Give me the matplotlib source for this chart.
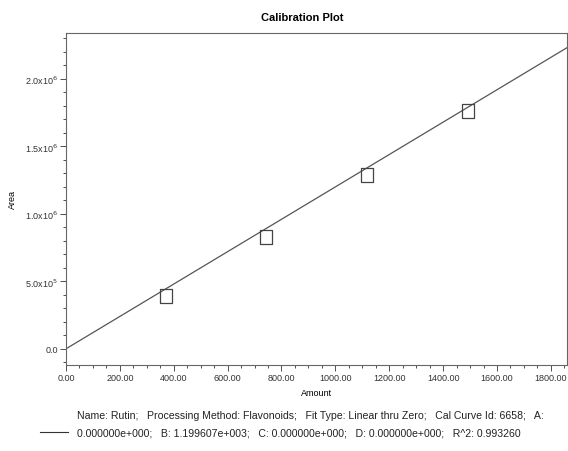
import matplotlib.pyplot as plt
from matplotlib.ticker import MultipleLocator, FixedLocator
import numpy as np

plt.rcParams['font.family'] = ['Liberation Sans Narrow', 'Liberation Sans', 'DejaVu Sans']

# 标准品数据点
amount = [370, 741, 1119, 1493]
area = [393000, 830000, 1290000, 1763000]

# 拟合参数 (Linear thru Zero)
coef_b = 1.199607e+003

y_ticks = [0, 500000, 1000000, 1500000, 2000000]
y_labels = ['0.0', '5.0x10$^5$', '1.0x10$^6$', '1.5x10$^6$', '2.0x10$^6$']
x_ticks = [0, 200, 400, 600, 800, 1000, 1200, 1400, 1600, 1800]

fig = plt.figure(figsize=(5.68, 4.52), dpi=100)
ax = fig.add_axes([66 / 568, 1 - 366 / 452, 501 / 568, 332 / 452])

xs = np.array([0, 1860])
ax.plot(xs, coef_b * xs, color='#555555', lw=0.9)

rect = [(-0.4, -0.5), (0.4, -0.5), (0.4, 0.5), (-0.4, 0.5), (-0.4, -0.5)]
ax.plot(amount, area, linestyle='none', marker=rect, markersize=10,
        markerfacecolor='none', markeredgecolor='#444444', markeredgewidth=0.9)

ax.set_xlim(0, 1860)
ax.set_ylim(-120000, 2340000)

ax.xaxis.set_major_locator(FixedLocator(x_ticks))
ax.set_xticklabels(['%.2f' % v for v in x_ticks])
ax.xaxis.set_minor_locator(MultipleLocator(50))
ax.yaxis.set_major_locator(FixedLocator(y_ticks))
ax.set_yticklabels(y_labels)
ax.yaxis.set_minor_locator(MultipleLocator(100000))

ax.tick_params(which='both', direction='out', labelsize=6.5, colors='#333333', width=0.6)
ax.tick_params(which='major', length=4, pad=2)
ax.tick_params(which='minor', length=2)

for s in ax.spines.values():
    s.set_color('#666666')
    s.set_linewidth(0.8)

ax.set_xlabel('Amount', fontsize=6.5, labelpad=4)
ax.set_ylabel('Area', fontsize=6.5, labelpad=6)
fig.text(0.533, 1 - 18 / 452, 'Calibration Plot', fontsize=8, fontweight='bold',
         ha='center', va='center')

# 图例
fig.add_artist(plt.Line2D([40 / 568, 68 / 568], [1 - 433 / 452, 1 - 433 / 452],
                          color='#333333', lw=0.8))
fig.text(77 / 568, 1 - 416 / 452,
         'Name: Rutin;   Processing Method: Flavonoids;   Fit Type: Linear thru Zero;   '
         'Cal Curve Id: 6658;   A:', fontsize=7.6, va='center', color='#222222')
fig.text(77 / 568, 1 - 434 / 452,
         '0.000000e+000;   B: 1.199607e+003;   C: 0.000000e+000;   D: 0.000000e+000;   '
         'R^2: 0.993260', fontsize=7.6, va='center', color='#222222')

plt.savefig('out.png', dpi=100)
